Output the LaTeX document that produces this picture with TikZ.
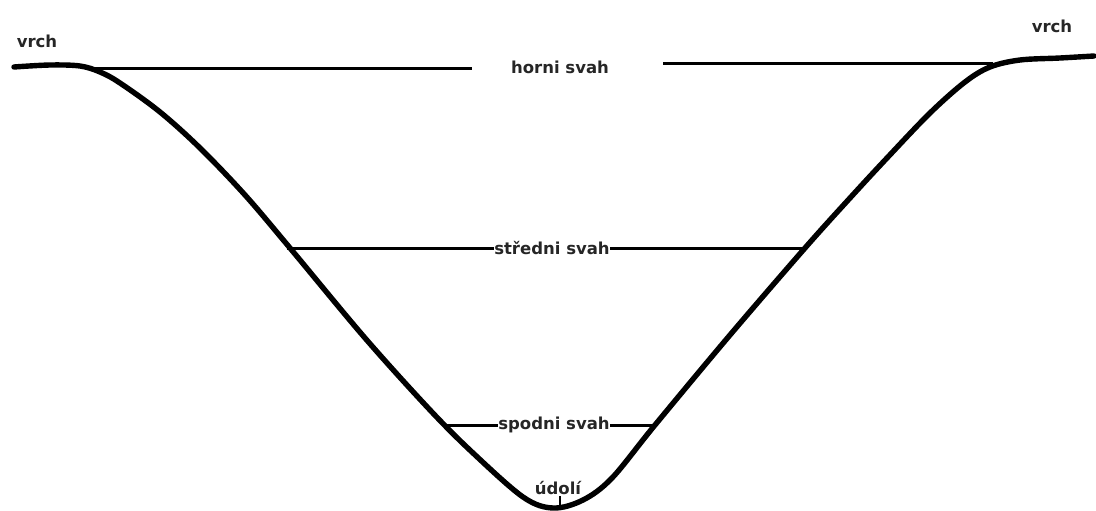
\documentclass[tikz,border=0pt]{standalone}
\usepackage{fontspec}
\setmainfont{DejaVu Sans}
\begin{document}
\begin{tikzpicture}[x=1pt,y=-1pt,
  lbl/.style={font=\fontsize{16.5}{18}\selectfont\bfseries, inner sep=0pt, text=black!85},
  terrain/.style={line width=5.4pt, line join=round, line cap=round},
  level/.style={line width=3pt}]
\useasboundingbox (0,0) rectangle (1096,511);

% valley profile
\draw[terrain] plot[smooth, tension=0.55] coordinates {
  (14,67) (50,65) (80,66) (100,72) (120,83) (160,112) (200,148) (245,195)
  (290,248) (365,338) (430,410) (473,453) (523,497) (553,508)
  (583,500) (612,478) (655,425) (730,335) (805,248) (850,198) (887,158)
  (930,113) (965,82) (990,67) (1020,60) (1060,58) (1094,56)};

% labels
\node[lbl] (vrchL) at (37,41) {vrch};
\node[lbl] (vrchR) at (1052,26) {vrch};
\node[lbl] (horni) at (560,67) {horni svah};
\node[lbl] (stredni) at (552,248) {středni svah};
\node[lbl] (spodni) at (554,425) {spodni svah};
\node[lbl] (udoli) at (558,488) {údolí};

% slope levels
\coordinate (hL) at (95,69);   \coordinate (hLe) at (472,69);
\coordinate (hRs) at (663,64); \coordinate (hR) at (993,64);
\coordinate (sL) at (287,248); \coordinate (sR) at (805,248);
\coordinate (pL) at (443,425); \coordinate (pR) at (655,425);
\coordinate (bottom) at (560,508);

\draw[level] (hL) -- (hLe);
\draw[level] (hRs) -- (hR);
\draw[level] (sL) -- (stredni.west);
\draw[level] (stredni.east) -- (sR);
\draw[level] (pL) -- (spodni.west);
\draw[level] (spodni.east) -- (pR);
\draw[line width=2.4pt] (udoli.south) ++(2,1) coordinate (tick) -- (tick |- bottom);
\end{tikzpicture}
\end{document}
